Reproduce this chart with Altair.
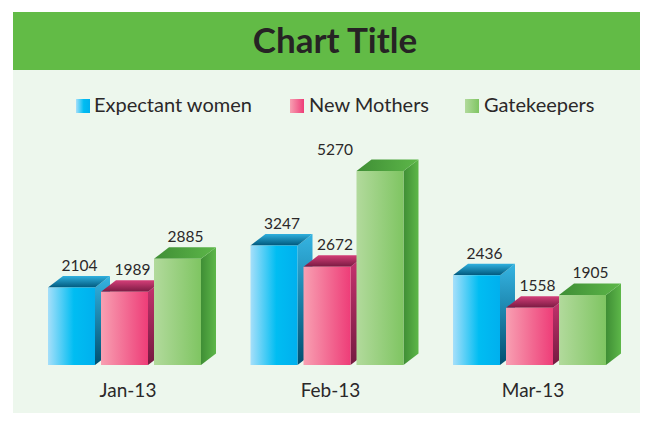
import altair as alt
import pandas as pd

months = ["Jan-13", "Feb-13", "Mar-13"]
series_names = ["Expectant women", "New Mothers", "Gatekeepers"]
expectant = [2104, 3247, 2436]
new_mothers = [1989, 2672, 1558]
gatekeepers = [2885, 5270, 1905]
title_text = "Chart Title"

FONT = "Lato"
INK = "#2B2829"
W, H = 632, 405
GROUP_PX = 202.5
SLOT = 53 / GROUP_PX
BAR = 47 / GROUP_PX
DEPTH_X = 15 / GROUP_PX
PX_PER_UNIT = 0.0368
DEPTH_Y = 11.5 / PX_PER_UNIT
LABEL_SHIFT = 8 / GROUP_PX


def grad(c0, c1, vertical=False, mid=None):
    stops = [alt.GradientStop(offset=0, color=c0)]
    if mid:
        stops.append(alt.GradientStop(offset=mid[0], color=mid[1]))
    stops.append(alt.GradientStop(offset=1, color=c1))
    return alt.LinearGradient(gradient="linear", stops=stops,
                              x1=0, x2=0 if vertical else 1,
                              y1=0, y2=1 if vertical else 0)


styles = [
    dict(front=grad("#A6DFFA", "#00B0EE", mid=(0.55, "#00BDF2")),
         top=grad("#2FB0DE", "#00587C", vertical=True),
         side=grad("#35B4E2", "#004F70", vertical=True)),
    dict(front=grad("#F8A0B2", "#EE3D78"),
         top=grad("#D43E78", "#7A1A42", vertical=True),
         side=grad("#C93470", "#741A40", vertical=True)),
    dict(front=grad("#B2DA9C", "#7FC562"),
         top=grad("#3F8E35", "#5DB749"),
         side=grad("#3F8E35", "#5DB749")),
]

xs = alt.Scale(domain=[-40 / GROUP_PX, (W - 40) / GROUP_PX], range=[0, W], nice=False, zero=False)
ys = alt.Scale(domain=[(357 - H) / PX_PER_UNIT, 357 / PX_PER_UNIT], nice=False, zero=False)
X = lambda f="x": alt.X(f"{f}:Q", scale=xs, axis=None)
Y = lambda f="y": alt.Y(f"{f}:Q", scale=ys, axis=None)

one = pd.DataFrame({"k": [0]})
layers = [
    alt.Chart(one).mark_rect(color="#EDF7ED").encode(
        x=alt.value(5), x2=alt.value(W), y=alt.value(4), y2=alt.value(H)),
    alt.Chart(one).mark_rect(color="#62BB46").encode(
        x=alt.value(5), x2=alt.value(W), y=alt.value(4), y2=alt.value(62)),
    alt.Chart(one).mark_text(font=FONT, fontWeight="bold", fontSize=35, color="#262324", align="center", baseline="middle").encode(
        x=alt.value(327), y=alt.value(34), text=alt.value(title_text)),
]

legend_px = [(68, 86), (282, 301), (457, 476)]
for name, style, (sx, tx) in zip(series_names, styles, legend_px):
    layers.append(alt.Chart(one).mark_rect(color=style["front"]).encode(
        x=alt.value(sx), x2=alt.value(sx + 14), y=alt.value(91), y2=alt.value(105)))
    layers.append(alt.Chart(one).mark_text(font=FONT, fontSize=20, color=INK, align="left", baseline="middle").encode(
        x=alt.value(tx), y=alt.value(98), text=alt.value(name)))

label_rows = []
for j, (values, style) in enumerate(zip([expectant, new_mothers, gatekeepers], styles)):
    front, side, top = [], [], []
    for i, v in enumerate(values):
        left = i + j * SLOT
        right = left + BAR
        front.append(dict(cat=i, x=left, x2=right, y=0, y2=v))
        side += [dict(cat=i, x=right, y=0, y2=v), dict(cat=i, x=right + DEPTH_X, y=DEPTH_Y, y2=v + DEPTH_Y)]
        top += [dict(cat=i, y=v, x=left, x2=right), dict(cat=i, y=v + DEPTH_Y, x=left + DEPTH_X, x2=right + DEPTH_X)]
        shift = -45 / GROUP_PX if v == max(gatekeepers) else LABEL_SHIFT
        label_rows.append(dict(x=left + BAR / 2 + shift, y=v, v=v))
    layers.append(alt.Chart(pd.DataFrame(side)).mark_area(color=style["side"], orient="vertical").encode(
        x=X(), y=Y(), y2="y2:Q", detail="cat:N"))
    layers.append(alt.Chart(pd.DataFrame(top)).mark_area(color=style["top"], orient="horizontal").encode(
        y=Y(), x=X(), x2="x2:Q", detail="cat:N"))
    layers.append(alt.Chart(pd.DataFrame(front)).mark_rect(color=style["front"]).encode(
        x=X(), x2="x2:Q", y=Y(), y2="y2:Q"))

layers.append(alt.Chart(pd.DataFrame(label_rows)).mark_text(
    font=FONT, fontSize=15.5, color=INK, align="center", baseline="middle", dy=-21.5).encode(
    x=X(), y=Y(), text="v:Q"))

cat_df = pd.DataFrame({"month": months, "x": [i + SLOT + BAR / 2 for i in range(3)]})
layers.append(alt.Chart(cat_df).mark_text(
    font=FONT, fontSize=19, color=INK, align="center", baseline="middle", dx=3.5).encode(
    x=X(), y=alt.value(383), text="month:N"))

chart = alt.layer(*layers).resolve_scale(x="shared", y="shared").properties(
    width=W, height=H, padding=0, background="white",
    autosize=alt.AutoSizeParams(type="none")
).configure_view(stroke=None)

chart.save("out.html", embed_options={"renderer": "svg", "actions": False})
